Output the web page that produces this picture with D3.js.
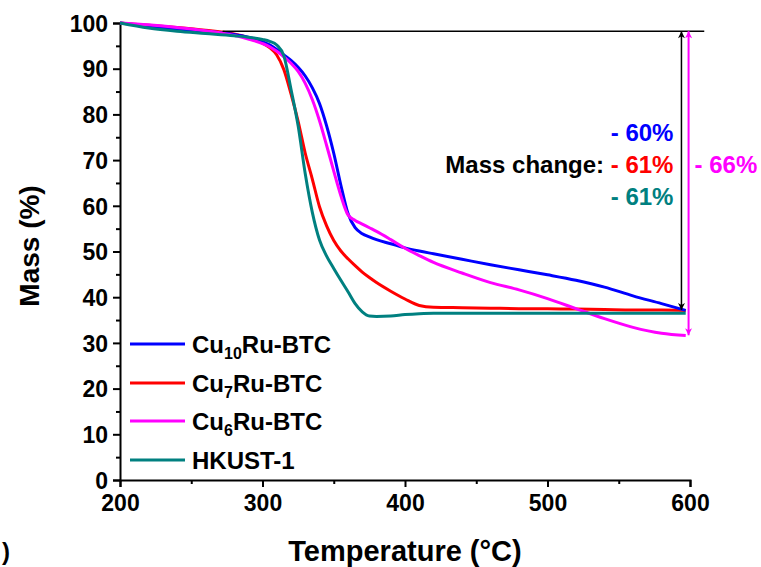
<!DOCTYPE html>
<html lang="en">
  <head>
    <meta charset="utf-8">
    <title>TGA curves</title>
    <script src="https://cdnjs.cloudflare.com/ajax/libs/d3/7.8.5/d3.min.js"></script>
    <style type="text/css">
      body { margin: 0; background: #fff; }
      text { font-family: "Liberation Sans", Arial, sans-serif; font-weight: bold; }
    </style>
  </head>
  <body>
    <script type="text/javascript">
    // data
    var temps = [200,220,240,260,280,290,300,305,310,315,320,325,330,335,340,345,350,355,360,365,370,375,380,390,400,410,420,440,460,480,500,520,540,560,580,597];

    var cu10Mass = [100,99.3,98.7,98.2,97.5,96.9,95.9,95.2,94.2,93.0,91.8,90.3,88.4,85.8,82.4,77.5,71.5,64.5,58.3,55.2,53.9,53.2,52.6,51.7,50.8,50.1,49.5,48.3,47.1,46.0,44.9,43.7,42.2,40.3,38.6,37.1];
    var cu7Mass = [100,99.5,99.0,98.4,97.6,96.8,95.6,94.6,93.0,89.8,84.5,78.5,71.5,65.8,59.8,55.6,52.4,50.1,48.4,46.9,45.5,44.3,43.2,41.3,39.6,38.2,37.8,37.7,37.6,37.5,37.5,37.4,37.3,37.2,37.2,37.1];
    var cu6Mass = [100,99.6,99.0,98.3,97.3,96.5,95.5,94.8,93.8,92.6,91.2,89.4,86.8,83.2,78.6,73.2,67.6,62.2,58.0,56.8,56.0,55.2,54.4,52.6,50.7,49.1,47.6,45.3,43.2,41.6,39.7,37.5,35.3,33.4,32.1,31.6];
    var hkustMass = [100,98.9,98.2,97.7,97.2,96.9,96.4,96.0,95.2,92.8,85.5,77.5,67.0,58.5,52.5,49.0,46.3,43.7,41.2,38.6,36.8,35.9,35.8,35.9,36.2,36.4,36.5,36.5,36.5,36.5,36.5,36.5,36.5,36.5,36.5,36.5];

    var seriesNames = ["Cu10Ru-BTC", "Cu7Ru-BTC", "Cu6Ru-BTC", "HKUST-1"];
    var seriesColors = ["#0000ff", "#ff0000", "#ff00ff", "#008080"];
    var seriesData = [cu10Mass, cu7Mass, cu6Mass, hkustMass];

    var xTicks = [200, 300, 400, 500, 600];
    var yTicks = [0, 10, 20, 30, 40, 50, 60, 70, 80, 90, 100];

    // mass change annotation
    var refMass = 98.2;
    var refStart = 272, refEnd = 610;
    var blackArrowT = 594, blackArrowEnd = 37.2;
    var pinkArrowT = 599, pinkArrowEnd = 31.7;

    var w = 761;
    var h = 567;

    var svg = d3.select("body")
                .append("svg")
                .attr("width", w)
                .attr("height", h);

    var x = d3.scaleLinear().domain([200, 600]).range([120, 690]);
    var y = d3.scaleLinear().domain([0, 100]).range([480, 23]);

    // axes
    var xAxis = svg.append("g")
       .attr("transform", "translate(0," + y(0) + ")")
       .call(d3.axisBottom(x).tickValues(d3.range(200, 601, 50)).tickSize(7)
             .tickFormat(function(d) { return xTicks.indexOf(d) >= 0 ? d : ""; }));
    var yAxis = svg.append("g")
       .attr("transform", "translate(" + x(200) + ",0)")
       .call(d3.axisLeft(y).tickValues(d3.range(0, 101, 5)).tickSize(7)
             .tickFormat(function(d) { return yTicks.indexOf(d) >= 0 ? d : ""; }));

    [xAxis, yAxis].forEach(function(ax) {
      ax.select(".domain").attr("stroke", "#000").attr("stroke-width", 2);
      ax.selectAll(".tick line").attr("stroke", "#000").attr("stroke-width", 2);
      ax.selectAll(".tick text").attr("font-size", "23px").attr("fill", "#000")
        .attr("font-family", "Liberation Sans, Arial, sans-serif").attr("font-weight", "bold");
    });
    // minor ticks shorter
    xAxis.selectAll(".tick").filter(function(d) { return d % 100 !== 0; })
         .select("line").attr("y2", 4);
    yAxis.selectAll(".tick").filter(function(d) { return d % 10 !== 0; })
         .select("line").attr("x2", -4);
    xAxis.selectAll(".tick text").attr("dy", "0.95em").attr("y", 9);
    yAxis.selectAll(".tick text").attr("x", -12).attr("dy", "0.36em");

    // axis titles
    svg.append("text")
       .attr("x", 405)
       .attr("y", 561)
       .attr("text-anchor", "middle")
       .attr("font-size", "29px")
       .text("Temperature (°C)");
    svg.append("text")
       .attr("transform", "translate(39,246) rotate(-90)")
       .attr("text-anchor", "middle")
       .attr("font-size", "28px")
       .text("Mass (%)");

    // curves
    var line = d3.line()
        .x(function(d, i) { return x(temps[i]); })
        .y(function(d) { return y(d); })
        .curve(d3.curveMonotoneX);

    var order = [1, 0, 2, 3];
    order.forEach(function(k) {
      svg.append("path")
         .datum(seriesData[k])
         .attr("d", line)
         .attr("fill", "none")
         .attr("stroke", seriesColors[k])
         .attr("stroke-width", 3);
    });

    // reference line and arrows
    svg.append("line")
       .attr("x1", x(refStart)).attr("x2", x(refEnd))
       .attr("y1", y(refMass)).attr("y2", y(refMass))
       .attr("stroke", "#000").attr("stroke-width", 1.5);

    var defs = svg.append("defs");
    function marker(id, color) {
      defs.append("marker")
          .attr("id", id)
          .attr("viewBox", "0 0 10 10")
          .attr("refX", 10).attr("refY", 5)
          .attr("markerWidth", 14).attr("markerHeight", 7)
          .attr("markerUnits", "userSpaceOnUse")
          .attr("orient", "auto-start-reverse")
          .append("path")
          .attr("d", "M0,0 L10,5 L0,10 L3,5 Z")
          .attr("fill", color);
    }
    marker("arrBlack", "#000");
    marker("arrPink", "#ff00ff");

    svg.append("line")
       .attr("x1", x(blackArrowT)).attr("x2", x(blackArrowT))
       .attr("y1", y(refMass)).attr("y2", y(blackArrowEnd))
       .attr("stroke", "#000").attr("stroke-width", 1.5)
       .attr("marker-start", "url(#arrBlack)")
       .attr("marker-end", "url(#arrBlack)");
    svg.append("line")
       .attr("x1", x(pinkArrowT)).attr("x2", x(pinkArrowT))
       .attr("y1", y(refMass)).attr("y2", y(pinkArrowEnd))
       .attr("stroke", "#ff00ff").attr("stroke-width", 2)
       .attr("marker-start", "url(#arrPink)")
       .attr("marker-end", "url(#arrPink)");

    // mass change labels
    var labelX = x(blackArrowT) - 8;
    svg.append("text").attr("x", labelX).attr("y", 141)
       .attr("text-anchor", "end").attr("font-size", "24px")
       .attr("fill", "#0000ff").text("- 60%");
    var mid = svg.append("text").attr("x", labelX).attr("y", 173)
       .attr("text-anchor", "end").attr("font-size", "24px");
    mid.append("tspan").attr("fill", "#000").text("Mass change: ");
    mid.append("tspan").attr("fill", "#ff0000").text("- 61%");
    svg.append("text").attr("x", labelX).attr("y", 205)
       .attr("text-anchor", "end").attr("font-size", "24px")
       .attr("fill", "#008080").text("- 61%");
    svg.append("text").attr("x", x(pinkArrowT) + 6).attr("y", 173)
       .attr("font-size", "24px")
       .attr("fill", "#ff00ff").text("- 66%");

    // legend
    var legendY = [344, 383, 421, 460];
    var legendParts = [["Cu", "10", "Ru-BTC"], ["Cu", "7", "Ru-BTC"], ["Cu", "6", "Ru-BTC"], ["HKUST-1", "", ""]];
    var lg = svg.selectAll("g.legend")
       .data(seriesNames)
       .enter()
       .append("g")
       .attr("class", "legend")
       .attr("transform", function(d, i) { return "translate(130," + legendY[i] + ")"; });
    lg.append("line")
      .attr("x1", 0).attr("x2", 55)
      .attr("stroke", function(d, i) { return seriesColors[i]; })
      .attr("stroke-width", 3);
    lg.each(function(d, i) {
      var t = d3.select(this).append("text")
          .attr("x", 62).attr("y", 9)
          .attr("font-size", "24px").attr("fill", "#000");
      var p = legendParts[i];
      t.append("tspan").text(p[0]);
      if (p[1]) {
        t.append("tspan").attr("font-size", "16px").attr("dy", 6).text(p[1]);
        t.append("tspan").attr("dy", -6).text(p[2]);
      }
    });

    // fragment of the neighbouring panel label
    svg.append("text").attr("x", 2).attr("y", 560)
       .attr("font-size", "24px").text(")");
    </script>
  </body>
</html>
